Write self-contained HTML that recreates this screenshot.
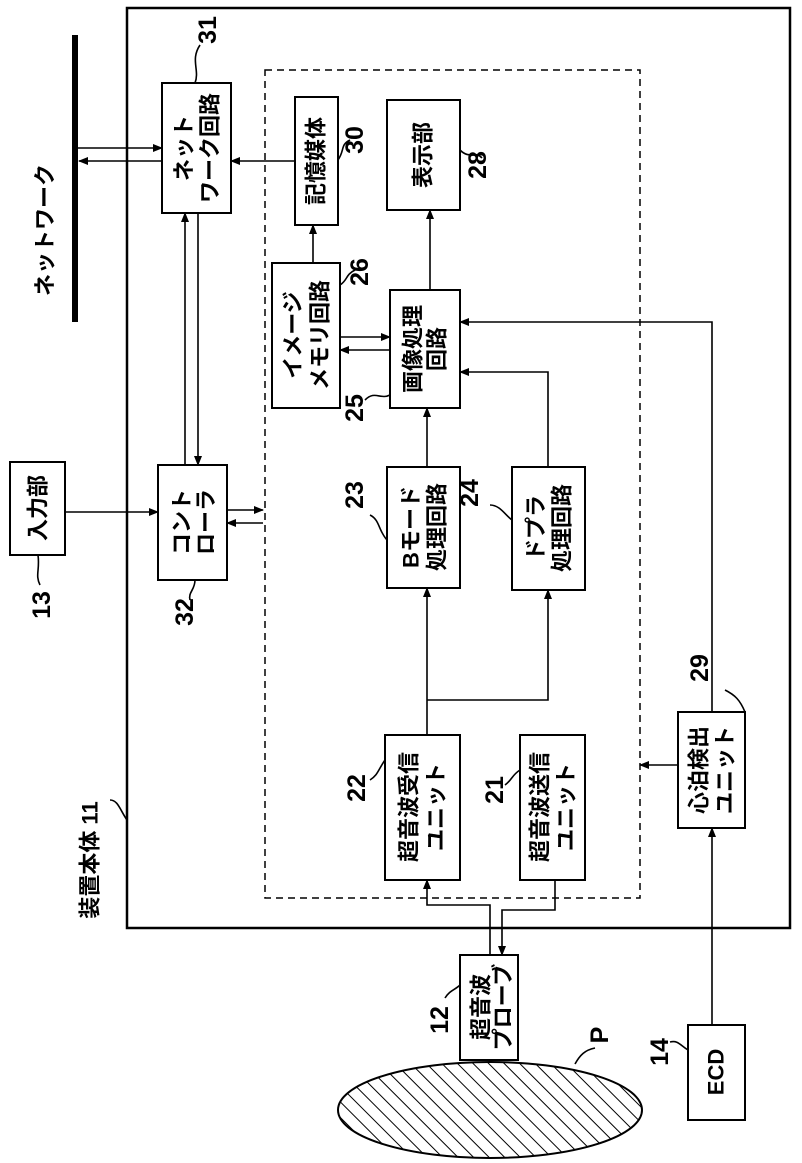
<!DOCTYPE html>
<html><head><meta charset="utf-8"><style>
html,body{margin:0;padding:0;background:#fff;}
svg{display:block;}
text{font-family:"Liberation Sans","Noto Sans CJK JP",sans-serif;fill:#000;}
.j{font-size:22px;font-weight:bold;}
.n{font-size:25px;font-weight:bold;}
</style></head><body>
<svg width="802" height="1163" viewBox="0 0 802 1163" xmlns="http://www.w3.org/2000/svg">
<defs>
<marker id="a" markerWidth="10" markerHeight="8" refX="9" refY="4" orient="auto" markerUnits="userSpaceOnUse">
<path d="M0,0 L10,4 L0,8 z" fill="#000"/></marker>
<pattern id="h" width="11" height="11" patternUnits="userSpaceOnUse" patternTransform="rotate(-45)">
<line x1="0" y1="0" x2="0" y2="11" stroke="#000" stroke-width="2"/></pattern>
</defs>
<g fill="none" stroke="#000" stroke-width="2">
<rect x="127" y="8" width="663" height="920" stroke-width="2.5"/>
<rect x="265" y="70" width="375" height="828" stroke-dasharray="7,5" stroke-width="1.5"/>
<line x1="75" y1="35" x2="75" y2="322" stroke-width="6"/>
<rect x="162" y="83" width="69" height="130"/>
<rect x="295" y="97" width="43" height="128"/>
<rect x="387" y="100" width="73" height="110"/>
<rect x="272" y="263" width="68" height="145"/>
<rect x="390" y="290" width="70" height="118"/>
<rect x="387" y="467" width="73" height="121"/>
<rect x="512" y="467" width="73" height="123"/>
<rect x="385" y="735" width="75" height="145"/>
<rect x="520" y="735" width="65" height="145"/>
<rect x="678" y="712" width="67" height="116"/>
<rect x="158" y="465" width="69" height="115"/>
<rect x="10" y="462" width="55" height="93"/>
<rect x="688" y="1025" width="57" height="95"/>
<rect x="460" y="955" width="58" height="105"/>
</g>
<ellipse cx="490" cy="1110" rx="152" ry="48" fill="url(#h)" stroke="#000" stroke-width="2"/>
<g fill="none" stroke="#000" stroke-width="1.6">
<line x1="78" y1="148" x2="162" y2="148" marker-end="url(#a)"/>
<line x1="162" y1="161" x2="79" y2="161" marker-end="url(#a)"/>
<line x1="295" y1="161" x2="231" y2="161" marker-end="url(#a)"/>
<line x1="185" y1="465" x2="185" y2="213" marker-end="url(#a)"/>
<line x1="198" y1="213" x2="198" y2="465" marker-end="url(#a)"/>
<line x1="65" y1="512" x2="158" y2="512" marker-end="url(#a)"/>
<line x1="227" y1="510" x2="263" y2="510" marker-end="url(#a)"/>
<line x1="263" y1="523" x2="227" y2="523" marker-end="url(#a)"/>
<line x1="313" y1="263" x2="313" y2="225" marker-end="url(#a)"/>
<line x1="430" y1="290" x2="430" y2="210" marker-end="url(#a)"/>
<line x1="340" y1="337" x2="390" y2="337" marker-end="url(#a)"/>
<line x1="390" y1="350" x2="340" y2="350" marker-end="url(#a)"/>
<line x1="427" y1="467" x2="427" y2="408" marker-end="url(#a)"/>
<polyline points="548,467 548,372 460,372" marker-end="url(#a)"/>
<polyline points="712,712 712,322 460,322" marker-end="url(#a)"/>
<line x1="427" y1="735" x2="427" y2="588" marker-end="url(#a)"/>
<polyline points="427,700 548,700 548,590" marker-end="url(#a)"/>
<polyline points="490,955 490,905 427,905 427,880" marker-end="url(#a)"/>
<polyline points="555,880 555,910 502,910 502,955" marker-end="url(#a)"/>
<line x1="678" y1="765" x2="640" y2="765" marker-end="url(#a)"/>
<line x1="712" y1="1025" x2="712" y2="828" marker-end="url(#a)"/>
<path d="M195,83 C200,70 190,60 200,45"/>
<path d="M338,160 C345,150 340,145 350,140"/>
<path d="M460,150 C470,160 475,150 482,158"/>
<path d="M340,285 C348,280 345,275 355,270"/>
<path d="M390,395 C380,400 375,390 365,400"/>
<path d="M387,540 C378,530 380,520 370,515"/>
<path d="M512,520 C505,515 500,505 490,505"/>
<path d="M385,760 C378,770 378,775 370,780"/>
<path d="M520,770 C512,775 512,780 505,785"/>
<path d="M745,712 C740,700 735,695 725,690"/>
<path d="M195,580 C195,590 188,592 190,600"/>
<path d="M38,555 C40,570 35,575 40,585"/>
<path d="M460,985 C455,990 450,990 445,998"/>
<path d="M688,1050 C680,1045 678,1040 670,1042"/>
<path d="M575,1064 C580,1055 585,1050 595,1048"/>
<path d="M127,820 C120,810 118,800 110,800"/>
</g>
<g class="j" text-anchor="middle" dominant-baseline="central">
<text transform="translate(45,230) rotate(-90)">ネットワーク</text>
<text transform="translate(184,148) rotate(-90)">ネット</text>
<text transform="translate(210,148) rotate(-90)">ワーク回路</text>
<text transform="translate(316,161) rotate(-90)">記憶媒体</text>
<text transform="translate(423,155) rotate(-90)">表示部</text>
<text transform="translate(293,335) rotate(-90)">イメージ</text>
<text transform="translate(320,335) rotate(-90)">メモリ回路</text>
<text transform="translate(413,349) rotate(-90)">画像処理</text>
<text transform="translate(437,349) rotate(-90)">回路</text>
<text transform="translate(411,527) rotate(-90)">Bモード</text>
<text transform="translate(437,527) rotate(-90)">処理回路</text>
<text transform="translate(536,528) rotate(-90)">ドプラ</text>
<text transform="translate(562,528) rotate(-90)">処理回路</text>
<text transform="translate(409,807) rotate(-90)">超音波受信</text>
<text transform="translate(436,807) rotate(-90)">ユニット</text>
<text transform="translate(540,807) rotate(-90)">超音波送信</text>
<text transform="translate(566,807) rotate(-90)">ユニット</text>
<text transform="translate(699,770) rotate(-90)">心泊検出</text>
<text transform="translate(725,770) rotate(-90)">ユニット</text>
<text transform="translate(182,522) rotate(-90)">コント</text>
<text transform="translate(206,522) rotate(-90)">ローラ</text>
<text transform="translate(38,508) rotate(-90)">入力部</text>
<text transform="translate(716,1072) rotate(-90)">ECD</text>
<text transform="translate(481,1007) rotate(-90)">超音波</text>
<text transform="translate(503,1007) rotate(-90)">プローブ</text>
<text transform="translate(90,860) rotate(-90)">装置本体 11</text>
</g>
<g class="n" text-anchor="middle" dominant-baseline="central">
<text transform="translate(208,30) rotate(-90)">31</text>
<text transform="translate(355,140) rotate(-90)">30</text>
<text transform="translate(478,165) rotate(-90)">28</text>
<text transform="translate(360,272) rotate(-90)">26</text>
<text transform="translate(355,408) rotate(-90)">25</text>
<text transform="translate(355,495) rotate(-90)">23</text>
<text transform="translate(470,493) rotate(-90)">24</text>
<text transform="translate(357,788) rotate(-90)">22</text>
<text transform="translate(495,790) rotate(-90)">21</text>
<text transform="translate(700,668) rotate(-90)">29</text>
<text transform="translate(185,612) rotate(-90)">32</text>
<text transform="translate(42,605) rotate(-90)">13</text>
<text transform="translate(440,1020) rotate(-90)">12</text>
<text transform="translate(660,1052) rotate(-90)">14</text>
<text transform="translate(600,1035) rotate(-90)">P</text>
</g>
</svg>
</body></html>
